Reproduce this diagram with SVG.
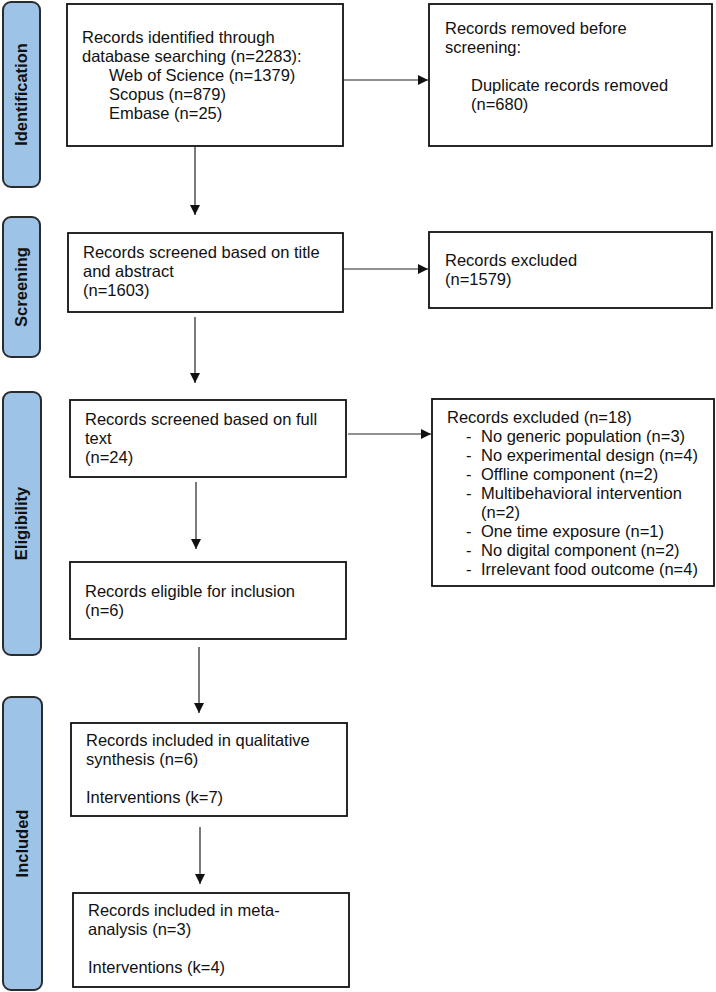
<svg xmlns="http://www.w3.org/2000/svg" width="716" height="992" viewBox="0 0 716 992">
<style>
.lbl{fill:#9dc3e6;stroke:#2b2b2b;stroke-width:2}
.ltx{font-family:"Liberation Sans",Arial,sans-serif;font-size:16.5px;font-weight:bold;fill:#111;text-anchor:middle}
.box{fill:#fff;stroke:#111;stroke-width:1.8}
.tx{font-family:"Liberation Sans",Arial,sans-serif;font-size:16.5px;fill:#111}
.con{stroke:#222;stroke-width:1.2;fill:none;marker-end:url(#ah)}
</style>
<defs>
<marker id="ah" viewBox="0 0 10 10" refX="10" refY="5" markerWidth="10" markerHeight="10" markerUnits="userSpaceOnUse" orient="auto">
<path d="M0,0 L10,5 L0,10 Z" fill="#111"/>
</marker>
</defs>
<rect width="716" height="992" fill="#fff"/>
<g id="stage-identification">
<rect class="lbl" x="3" y="2" width="37" height="185" rx="8"/>
<text class="ltx" transform="translate(27,94.5) rotate(-90)">Identification</text>
</g>
<g id="stage-screening">
<rect class="lbl" x="3" y="217" width="37" height="140" rx="8"/>
<text class="ltx" transform="translate(27,287) rotate(-90)">Screening</text>
</g>
<g id="stage-eligibility">
<rect class="lbl" x="3" y="392" width="38" height="263" rx="8"/>
<text class="ltx" transform="translate(27,523.5) rotate(-90)">Eligibility</text>
</g>
<g id="stage-included">
<rect class="lbl" x="3" y="697" width="39" height="293" rx="8"/>
<text class="ltx" transform="translate(28,843.5) rotate(-90)">Included</text>
</g>
<g id="identified">
<rect class="box" x="67" y="4" width="276" height="142"/>
<text class="tx" x="82" y="43">Records identified through</text>
<text class="tx" x="82" y="62">database searching (n=2283):</text>
<text class="tx" x="109" y="81">Web of Science (n=1379)</text>
<text class="tx" x="109" y="100">Scopus (n=879)</text>
<text class="tx" x="109" y="119">Embase (n=25)</text>
</g>
<g id="removed">
<rect class="box" x="429" y="4" width="283" height="142"/>
<text class="tx" x="445" y="34">Records removed before</text>
<text class="tx" x="445" y="53">screening:</text>
<text class="tx" x="471" y="91">Duplicate records removed</text>
<text class="tx" x="471" y="110">(n=680)</text>
</g>
<g id="screened">
<rect class="box" x="68" y="233" width="275" height="79"/>
<text class="tx" x="83" y="258">Records screened based on title</text>
<text class="tx" x="83" y="277">and abstract</text>
<text class="tx" x="83" y="296">(n=1603)</text>
</g>
<g id="excluded1">
<rect class="box" x="429" y="232" width="283" height="76"/>
<text class="tx" x="445" y="266">Records excluded</text>
<text class="tx" x="445" y="285">(n=1579)</text>
</g>
<g id="fulltext">
<rect class="box" x="70" y="400" width="276" height="77"/>
<text class="tx" x="85" y="425">Records screened based on full</text>
<text class="tx" x="85" y="444">text</text>
<text class="tx" x="85" y="463">(n=24)</text>
</g>
<g id="excluded2">
<rect class="box" x="432" y="399" width="282" height="187"/>
<text class="tx" x="447" y="423">Records excluded (n=18)</text>
<text class="tx" x="466" y="442">-</text><text class="tx" x="481" y="442">No generic population (n=3)</text>
<text class="tx" x="466" y="461">-</text><text class="tx" x="481" y="461">No experimental design (n=4)</text>
<text class="tx" x="466" y="480">-</text><text class="tx" x="481" y="480">Offline component (n=2)</text>
<text class="tx" x="466" y="499">-</text><text class="tx" x="481" y="499">Multibehavioral intervention</text>
<text class="tx" x="481" y="518">(n=2)</text>
<text class="tx" x="466" y="537">-</text><text class="tx" x="481" y="537">One time exposure (n=1)</text>
<text class="tx" x="466" y="556">-</text><text class="tx" x="481" y="556">No digital component (n=2)</text>
<text class="tx" x="466" y="575">-</text><text class="tx" x="481" y="575">Irrelevant food outcome (n=4)</text>
</g>
<g id="eligible">
<rect class="box" x="70" y="562" width="276" height="77"/>
<text class="tx" x="85" y="597">Records eligible for inclusion</text>
<text class="tx" x="85" y="616">(n=6)</text>
</g>
<g id="qualitative">
<rect class="box" x="71" y="723" width="276" height="93"/>
<text class="tx" x="86" y="746">Records included in qualitative</text>
<text class="tx" x="86" y="765">synthesis (n=6)</text>
<text class="tx" x="86" y="803">Interventions (k=7)</text>
</g>
<g id="meta">
<rect class="box" x="73" y="893" width="276" height="94"/>
<text class="tx" x="88" y="916">Records included in meta-</text>
<text class="tx" x="88" y="935">analysis (n=3)</text>
<text class="tx" x="88" y="973">Interventions (k=4)</text>
</g>
<g id="connectors">
<line class="con" x1="343" y1="80" x2="428" y2="80"/>
<line class="con" x1="195" y1="147" x2="195" y2="215"/>
<line class="con" x1="343" y1="269" x2="428" y2="269"/>
<line class="con" x1="195" y1="317" x2="195" y2="383"/>
<line class="con" x1="348" y1="434" x2="431" y2="434"/>
<line class="con" x1="196" y1="482" x2="196" y2="549"/>
<line class="con" x1="199" y1="647" x2="199" y2="713"/>
<line class="con" x1="200" y1="827" x2="200" y2="884"/>
</g>
</svg>
